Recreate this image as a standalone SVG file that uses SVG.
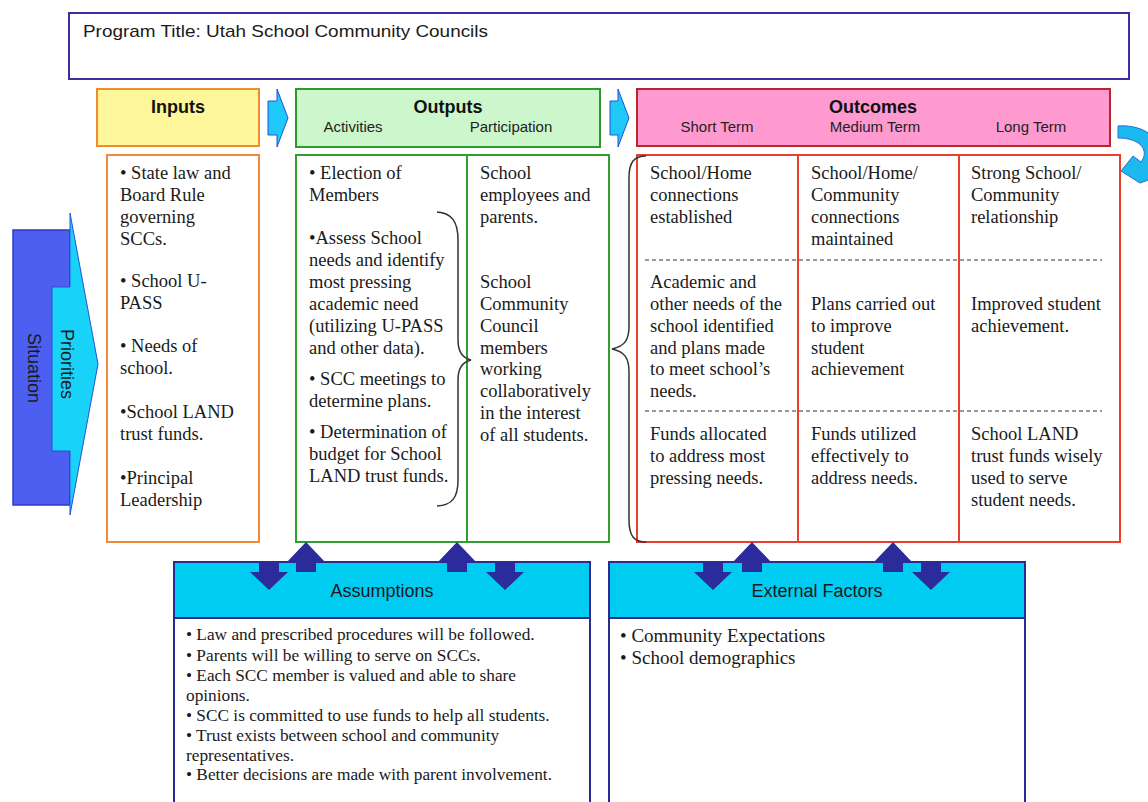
<svg xmlns="http://www.w3.org/2000/svg" width="1148" height="802" viewBox="0 0 1148 802">
<defs>
<style>
.sans{font-family:"Liberation Sans",Arial,sans-serif;fill:#1a1a1a}
.hd{font-family:"Liberation Sans",Arial,sans-serif;font-weight:bold;font-size:18px;fill:#111;text-anchor:middle}
.sub{font-family:"Liberation Sans",Arial,sans-serif;font-size:15px;fill:#222;text-anchor:middle}
.bt{font-family:"Liberation Serif","Times New Roman",serif;font-size:18.5px;fill:#1a1a1a}
.at{font-family:"Liberation Serif","Times New Roman",serif;font-size:17.3px;fill:#1a1a1a}
.et{font-family:"Liberation Serif","Times New Roman",serif;font-size:19px;fill:#1a1a1a}
.chev{fill:#1ec8f8;stroke:#2a4fd8;stroke-width:1}
.navy{fill:#2b2b9b}
.dash{stroke:#333;stroke-width:1;stroke-dasharray:4 3;fill:none}
.brace{stroke:#333;stroke-width:1.5;fill:none}
.cyanhd{fill:#00ccf2;stroke:#2a2a90;stroke-width:2}
.whitebox{fill:#fff;stroke:#2a2a90;stroke-width:2}
</style>
<path id="upA" d="M0,0 L19,20 L10,20 L10,30 L-10,30 L-10,20 L-19,20 Z"/>
<path id="downA" d="M-10,0 L10,0 L10,10 L19,10 L0,28 L-19,10 L-10,10 Z"/>
</defs>
<rect width="1148" height="802" fill="#fff"/>

<g id="title">
<rect x="69" y="13" width="1060" height="66" fill="#fff" stroke="#3a2f9f" stroke-width="2"/>
<text class="sans" x="83" y="37" font-size="17" textLength="405" lengthAdjust="spacingAndGlyphs">Program Title: Utah School Community Councils</text>
</g>

<g id="situation">
<rect x="13" y="230" width="57" height="275" fill="#4d5ff0" stroke="#2d3ac8" stroke-width="1.5"/>
<text class="sans" transform="translate(34,368) rotate(90)" font-size="18" text-anchor="middle" dominant-baseline="central" fill="#14145a">Situation</text>
</g>
<g id="priorities">
<polygon points="52,287 70,287 70,213 98,364 70,515 70,451 52,451" fill="#19d2f8" stroke="#2a4fd8" stroke-width="1"/>
<text class="sans" transform="translate(67,364) rotate(90)" font-size="18" text-anchor="middle" dominant-baseline="central" fill="#0a2e50">Priorities</text>
</g>

<g id="inputs-header">
<rect x="97" y="89" width="162" height="57" fill="#fdf69a" stroke="#f08c30" stroke-width="2"/>
<text class="hd" x="178" y="113">Inputs</text>
</g>
<g id="outputs-header">
<rect x="296" y="89" width="304" height="58" fill="#ccf7cc" stroke="#2e9a2e" stroke-width="2"/>
<text class="hd" x="448" y="113">Outputs</text>
<text class="sub" x="353" y="132">Activities</text>
<text class="sub" x="511" y="132">Participation</text>
</g>
<g id="outcomes-header">
<rect x="637" y="89" width="473" height="57" fill="#ff9ad0" stroke="#b8262a" stroke-width="2"/>
<text class="hd" x="873" y="113">Outcomes</text>
<text class="sub" x="717" y="132">Short Term</text>
<text class="sub" x="875" y="132">Medium Term</text>
<text class="sub" x="1031" y="132">Long Term</text>
</g>

<g id="inputs">
<rect x="107" y="155" width="152" height="387" fill="#fff" stroke="#ee8a3a" stroke-width="2"/>
<text class="bt" x="120" y="179">• State law and</text>
<text class="bt" x="120" y="201">Board Rule</text>
<text class="bt" x="120" y="223">governing</text>
<text class="bt" x="120" y="245">SCCs.</text>
<text class="bt" x="120" y="287">• School U-</text>
<text class="bt" x="120" y="309">PASS</text>
<text class="bt" x="120" y="352">• Needs of</text>
<text class="bt" x="120" y="374">school.</text>
<text class="bt" x="120" y="418">•School LAND</text>
<text class="bt" x="120" y="440">trust funds.</text>
<text class="bt" x="120" y="484">•Principal</text>
<text class="bt" x="120" y="506">Leadership</text>
</g>

<g id="outputs">
<rect x="296" y="155" width="313" height="387" fill="#fff" stroke="#2ea02e" stroke-width="2"/>
<line x1="467" y1="155" x2="467" y2="542" stroke="#2ea02e" stroke-width="2"/>
<text class="bt" x="309" y="179">• Election of</text>
<text class="bt" x="309" y="201">Members</text>
<text class="bt" x="309" y="244">•Assess School</text>
<text class="bt" x="309" y="266">needs and identify</text>
<text class="bt" x="309" y="288">most pressing</text>
<text class="bt" x="309" y="310">academic need</text>
<text class="bt" x="309" y="332">(utilizing U-PASS</text>
<text class="bt" x="309" y="354">and other data).</text>
<text class="bt" x="309" y="385">• SCC meetings to</text>
<text class="bt" x="309" y="407">determine plans.</text>
<text class="bt" x="309" y="438">• Determination of</text>
<text class="bt" x="309" y="460">budget for School</text>
<text class="bt" x="309" y="482">LAND trust funds.</text>
<text class="bt" x="480" y="179">School</text>
<text class="bt" x="480" y="201">employees and</text>
<text class="bt" x="480" y="223">parents.</text>
<text class="bt" x="480" y="288">School</text>
<text class="bt" x="480" y="310">Community</text>
<text class="bt" x="480" y="332">Council</text>
<text class="bt" x="480" y="354">members</text>
<text class="bt" x="480" y="375">working</text>
<text class="bt" x="480" y="397">collaboratively</text>
<text class="bt" x="480" y="419">in the interest</text>
<text class="bt" x="480" y="441">of all students.</text>
</g>

<g id="outcomes">
<rect x="637" y="155" width="483" height="387" fill="#fff" stroke="#e8402a" stroke-width="2"/>
<line x1="798" y1="155" x2="798" y2="542" stroke="#e8402a" stroke-width="2"/>
<line x1="959" y1="155" x2="959" y2="542" stroke="#e8402a" stroke-width="2"/>
<line class="dash" x1="645" y1="260" x2="1102" y2="260"/>
<line class="dash" x1="645" y1="411" x2="1102" y2="411"/>
<text class="bt" x="650" y="179">School/Home</text>
<text class="bt" x="650" y="201">connections</text>
<text class="bt" x="650" y="223">established</text>
<text class="bt" x="650" y="288">Academic and</text>
<text class="bt" x="650" y="310">other needs of the</text>
<text class="bt" x="650" y="332">school identified</text>
<text class="bt" x="650" y="354">and plans made</text>
<text class="bt" x="650" y="375">to meet school’s</text>
<text class="bt" x="650" y="397">needs.</text>
<text class="bt" x="650" y="440">Funds allocated</text>
<text class="bt" x="650" y="462">to address most</text>
<text class="bt" x="650" y="484">pressing needs.</text>
<text class="bt" x="811" y="179">School/Home/</text>
<text class="bt" x="811" y="201">Community</text>
<text class="bt" x="811" y="223">connections</text>
<text class="bt" x="811" y="245">maintained</text>
<text class="bt" x="811" y="310">Plans carried out</text>
<text class="bt" x="811" y="332">to improve</text>
<text class="bt" x="811" y="354">student</text>
<text class="bt" x="811" y="375">achievement</text>
<text class="bt" x="811" y="440">Funds utilized</text>
<text class="bt" x="811" y="462">effectively to</text>
<text class="bt" x="811" y="484">address needs.</text>
<text class="bt" x="971" y="179">Strong School/</text>
<text class="bt" x="971" y="201">Community</text>
<text class="bt" x="971" y="223">relationship</text>
<text class="bt" x="971" y="310">Improved student</text>
<text class="bt" x="971" y="332">achievement.</text>
<text class="bt" x="971" y="440">School LAND</text>
<text class="bt" x="971" y="462">trust funds wisely</text>
<text class="bt" x="971" y="484">used to serve</text>
<text class="bt" x="971" y="506">student needs.</text>
</g>

<g id="assumptions">
<rect class="whitebox" x="174" y="618" width="416" height="190"/>
<rect class="cyanhd" x="174" y="562" width="416" height="56"/>
<text class="sans" x="382" y="597" font-size="18" text-anchor="middle" fill="#10304a">Assumptions</text>
<text class="at" x="186" y="640">• Law and prescribed procedures will be followed.</text>
<text class="at" x="186" y="661">• Parents will be willing to serve on SCCs.</text>
<text class="at" x="186" y="681">• Each SCC member is valued and able to share</text>
<text class="at" x="186" y="701">opinions.</text>
<text class="at" x="186" y="721">• SCC is committed to use funds to help all students.</text>
<text class="at" x="186" y="741">• Trust exists between school and community</text>
<text class="at" x="186" y="761">representatives.</text>
<text class="at" x="186" y="780">• Better decisions are made with parent involvement.</text>
</g>

<g id="external-factors">
<rect class="whitebox" x="609" y="618" width="416" height="190"/>
<rect class="cyanhd" x="609" y="562" width="416" height="56"/>
<text class="sans" x="817" y="597" font-size="18" text-anchor="middle" fill="#10304a">External Factors</text>
<text class="et" x="620" y="642">• Community Expectations</text>
<text class="et" x="620" y="664">• School demographics</text>
</g>

<g id="connectors">
<polygon class="chev" points="268,101 277,101 277,89 288,118 277,147 277,135 268,135"/>
<polygon class="chev" points="610,101 618,101 618,89 629,118 618,147 618,135 610,135"/>
<path d="M1118,126 C1145,124 1166,140 1162,166 L1160,176 C1155,178 1148,180 1140,183 L1121,171 L1133,156 L1141,162 C1150,150 1140,138 1118,138 Z" fill="#1cb8f0" stroke="#2a70d0" stroke-width="1"/>
<path class="brace" d="M437,212 C452,213 458,222 458,240 L458,340 C458,352 462,358 471,360 C462,362 458,368 458,380 L458,480 C458,498 452,505 437,506"/>
<path class="brace" d="M646,156 C634,156 629,162 629,178 L629,326 C629,340 625,346 612,349 C625,352 629,358 629,372 L629,520 C629,536 634,542 646,542"/>
<use href="#downA" class="navy" transform="translate(269,562)"/>
<use href="#upA" class="navy" transform="translate(306,542)"/>
<use href="#upA" class="navy" transform="translate(457,542)"/>
<use href="#downA" class="navy" transform="translate(505,562)"/>
<use href="#downA" class="navy" transform="translate(713,562)"/>
<use href="#upA" class="navy" transform="translate(752,542)"/>
<use href="#upA" class="navy" transform="translate(893,542)"/>
<use href="#downA" class="navy" transform="translate(931,562)"/>
</g>
</svg>
